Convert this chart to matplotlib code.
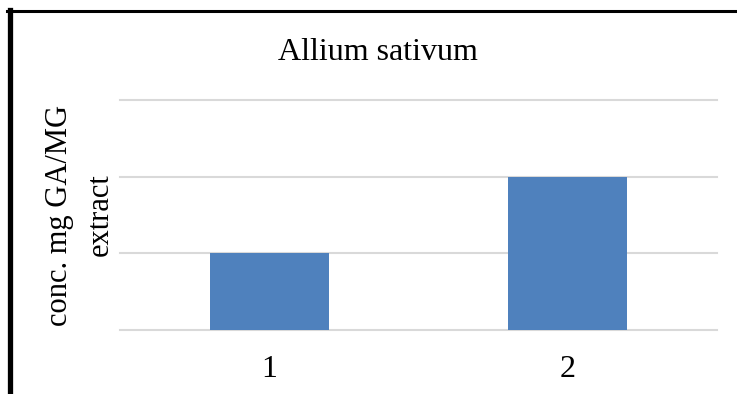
import matplotlib
matplotlib.use('Agg')
import matplotlib.pyplot as plt
from matplotlib.lines import Line2D

categories = ["1", "2"]
values = [1, 2]
grid_levels = [0, 1, 2, 3]

plt.rcParams['font.family'] = ['Liberation Serif', 'DejaVu Serif']

W, H = 737, 394
fig = plt.figure(figsize=(W / 100, H / 100), dpi=100)
ax = fig.add_axes([120 / W, 1 - 330 / H, (717 - 120) / W, (330 - 100) / H])

x = range(len(categories))
ax.bar(x, values, width=0.4, color='#4f81bd', zorder=3)
ax.set_xlim(-0.5, 1.5)
ax.set_ylim(grid_levels[0], grid_levels[-1])

for g in grid_levels:
    ax.axhline(g, color='#d9d9d9', linewidth=1.5, zorder=1, clip_on=False)

ax.set_xticks(list(x))
ax.set_xticklabels(categories, fontsize=23)
ax.tick_params(axis='x', length=0, pad=18)
ax.set_yticks([])
for s in ax.spines.values():
    s.set_visible(False)

ax.set_title("Allium sativum", fontsize=23, pad=29, x=0.432)
ax.set_ylabel("conc. mg GA/MG\nextract", fontsize=22, linespacing=1.5, labelpad=4)

# black frame on left and top
fig.add_artist(Line2D([9.5 / W, 9.5 / W], [0, 1 - 10 / H], color='black',
                      linewidth=3.8, transform=fig.transFigure))
fig.add_artist(Line2D([7 / W, 1], [1 - 11 / H, 1 - 11 / H], color='black',
                      linewidth=2.2, transform=fig.transFigure))

fig.savefig('out.png', dpi=100)
